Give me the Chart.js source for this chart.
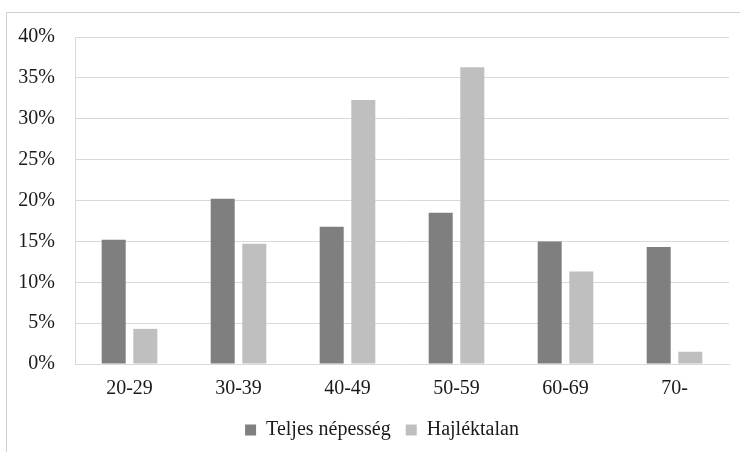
<!DOCTYPE html>
<html>
<head>
<meta charset="utf-8">
<script src="https://cdn.jsdelivr.net/npm/chart.js@4/dist/chart.umd.min.js"></script>
<style>
  html, body { margin: 0; padding: 0; overflow: hidden; background: #fff; width: 740px; height: 452px; }
  #frame { position: absolute; left: 6px; top: 12px; width: 760px; height: 460px;
           border-left: 1px solid #d0d0d0; border-top: 1px solid #d0d0d0; }
  #wrap { position: absolute; left: 0; top: -8px; width: 750px; height: 447px; }
</style>
</head>
<body>
<div id="frame"><div id="wrap"><canvas id="c"></canvas></div></div>
<script>
const categories = ['20-29', '30-39', '40-49', '50-59', '60-69', '70-'];
const teljesNepesseg = [15.2, 20.2, 16.8, 18.5, 15.0, 14.3];
const hajlektalan = [4.3, 14.7, 32.3, 36.3, 11.3, 1.5];
const seriesNames = ['Teljes népesség', 'Hajléktalan'];
const yTicks = [0, 5, 10, 15, 20, 25, 30, 35, 40];

const FONT = "'Liberation Serif', 'Times New Roman', serif";

new Chart(document.getElementById('c'), {
  type: 'bar',
  data: {
    labels: categories,
    datasets: [
      { label: seriesNames[0], data: teljesNepesseg, backgroundColor: '#7f7f7f',
        categoryPercentage: 0.58, barPercentage: 0.76 },
      { label: seriesNames[1], data: hajlektalan, backgroundColor: '#bfbfbf',
        categoryPercentage: 0.58, barPercentage: 0.76 }
    ]
  },
  options: {
    responsive: true,
    maintainAspectRatio: false,
    animation: false,
    layout: { padding: { left: 0, right: 0, top: 3, bottom: 2 } },
    plugins: {
      tooltip: { enabled: false },
      legend: {
        position: 'bottom',
        labels: {
          boxWidth: 11, boxHeight: 11, padding: 15,
          color: '#1a1a1a',
          font: { family: FONT, size: 20 }
        }
      }
    },
    scales: {
      x: {
        grid: { display: false, drawTicks: false },
        border: { display: true, color: '#d9d9d9', width: 1 },
        ticks: { color: '#1a1a1a', padding: 13, font: { family: FONT, size: 20 } },
        afterFit: s => { s.height = 41; }
      },
      y: {
        min: 0, max: 40,
        afterBuildTicks: s => { s.ticks = yTicks.map(v => ({ value: v })); },
        grid: { color: '#d9d9d9', lineWidth: 1, drawTicks: false },
        border: { display: true, color: '#d9d9d9', width: 1 },
        ticks: { color: '#1a1a1a', padding: 20, font: { family: FONT, size: 20 },
                 callback: v => v + '%' },
        afterFit: s => { s.width = 68; }
      },
      yRight: {
        type: 'linear',
        position: 'right',
        display: true,
        grid: { display: false, drawTicks: false },
        border: { display: false },
        ticks: { display: false },
        afterFit: s => { s.width = 28; }
      }
    }
  }
});
</script>
</body>
</html>
